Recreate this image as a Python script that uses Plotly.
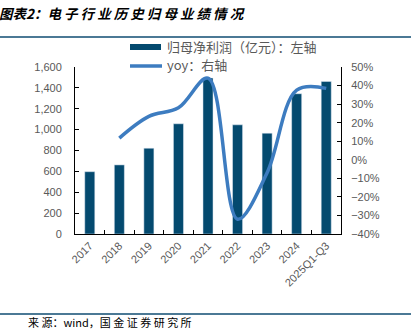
import plotly.graph_objects as go

categories = ["2017", "2018", "2019", "2020", "2021", "2022", "2023", "2024", "2025Q1-Q3"]
profit = [597, 662, 822, 1056, 1495, 1046, 966, 1344, 1462]
yoy_cats = categories[1:]
yoy = [0.117, 0.234, 0.28, 0.44, -0.32, -0.07, 0.375, 0.385]

bar_color = "#044a6f"
line_color = "#3d7cc0"
grey = "#595959"

# plot area pixels
L, R, T, B = 75, 341, 67, 234
W, H = 411, 330
pw, ph = R - L, B - T
def px(x):
    return (x - L) / pw
def py(y):
    return (B - y) / ph

fig = go.Figure()
fig.add_trace(go.Bar(x=categories, y=profit, marker_color=bar_color, width=0.34,
                     showlegend=False, name="归母净利润（亿元）：左轴"))
fig.add_trace(go.Scatter(x=yoy_cats, y=yoy, yaxis="y2", mode="lines",
                         line=dict(color=line_color, width=3.5, shape="spline", smoothing=1.0),
                         showlegend=False, name="yoy：右轴"))

num_font = dict(family="Liberation Sans, Arial", size=11, color=grey)
fig.update_layout(
    width=W, height=H,
    margin=dict(l=L, r=W - R, t=T, b=H - B),
    paper_bgcolor="white", plot_bgcolor="white",
    xaxis=dict(showline=True, linecolor="black", linewidth=1, ticks="inside", ticklen=4,
               tickcolor="black", tickson="boundaries", tickangle=-45, tickfont=num_font,
               showgrid=False, zeroline=False),
    yaxis=dict(range=[0, 1600], dtick=200, tickformat=",", showline=True, linecolor="black",
               linewidth=1, ticks="inside", ticklen=4, tickcolor="black", tickfont=num_font,
               ticklabelstandoff=10, showgrid=False, zeroline=False),
    yaxis2=dict(range=[-0.4, 0.5], dtick=0.1, tickformat=".0%", overlaying="y", side="right",
                showline=True, linecolor="black", linewidth=1, ticks="inside", ticklen=4,
                tickcolor="black", tickfont=num_font, ticklabelstandoff=7,
                showgrid=False, zeroline=False),
    showlegend=False,
)

title_font = dict(family="Noto Sans CJK SC", size=13.5, color="black")
fig.add_annotation(text="<b><i>图表2：电 子 行 业 历 史 归 母 业 绩 情 况</i></b>", xref="paper", yref="paper",
                   x=px(-3), y=py(13), xanchor="left", yanchor="middle", showarrow=False, font=title_font)
fig.add_shape(type="line", xref="paper", yref="paper", x0=px(0), x1=px(411), y0=py(37), y1=py(37),
              line=dict(color="#0f4c72", width=1.5))
fig.add_shape(type="line", xref="paper", yref="paper", x0=px(0), x1=px(411), y0=py(314), y1=py(314),
              line=dict(color="#0f4c72", width=1.5))
fig.add_annotation(text="来 源：wind，国 金 证 券 研 究 所", xref="paper", yref="paper",
                   x=px(26), y=py(322), xanchor="left", yanchor="middle", showarrow=False,
                   font=dict(family="Noto Sans CJK SC", size=11, color="black"))

# legend
leg_font = dict(family="Noto Sans CJK SC", size=13, color=grey)
fig.add_shape(type="rect", xref="paper", yref="paper", x0=px(130), x1=px(161), y0=py(50), y1=py(44),
              fillcolor=bar_color, line=dict(width=0))
fig.add_annotation(text="归母净利润（亿元）：左轴", xref="paper", yref="paper", x=px(165), y=py(47),
                   xanchor="left", yanchor="middle", showarrow=False, font=leg_font)
fig.add_shape(type="line", xref="paper", yref="paper", x0=px(130), x1=px(162), y0=py(66), y1=py(66),
              line=dict(color=line_color, width=3.5))
fig.add_annotation(text="yoy：右轴", xref="paper", yref="paper", x=px(165), y=py(65),
                   xanchor="left", yanchor="middle", showarrow=False, font=leg_font)

fig.write_html("out.html")
